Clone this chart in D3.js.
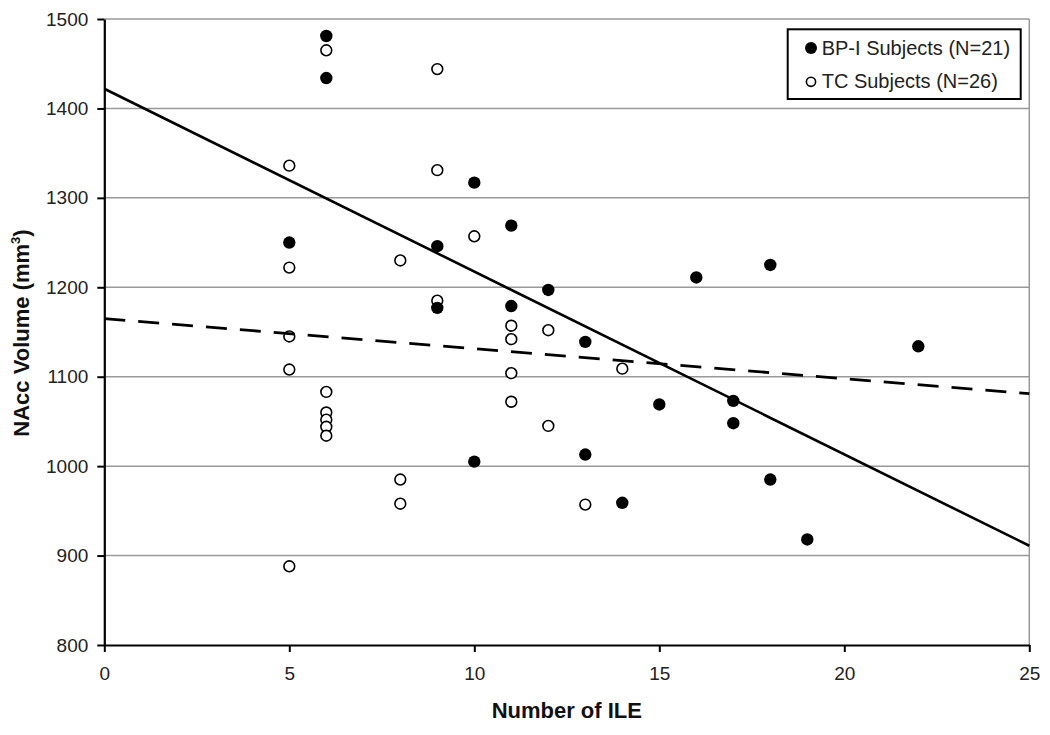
<!DOCTYPE html>
<html>
<head>
<meta charset="utf-8">
<script src="https://cdn.jsdelivr.net/npm/d3@7/dist/d3.min.js"></script>
<style>
  html, body { margin: 0; padding: 0; background: #fff; }
  svg { display: block; font-family: "Liberation Sans", Arial, sans-serif; }
</style>
</head>
<body>
<svg id="chart" width="1050" height="735"></svg>
<script>
// ---- Data ----
const bpX = [6, 6, 5, 9, 9, 10, 10, 11, 11, 12, 13, 13, 14, 15, 16, 17, 17, 18, 18, 19, 22];
const bpY = [1481, 1434, 1250, 1246, 1177, 1317, 1005, 1269, 1179, 1197, 1139, 1013, 959, 1069, 1211, 1073, 1048, 1225, 985, 918, 1134];

const tcX = [5, 5, 5, 5, 5, 6, 6, 6, 6, 6, 6, 8, 8, 8, 9, 9, 9, 10, 11, 11, 11, 11, 12, 12, 13, 14];
const tcY = [1336, 1222, 1145, 1108, 888, 1465, 1083, 1060, 1052, 1044, 1034, 1230, 985, 958, 1444, 1331, 1185, 1257, 1157, 1142, 1104, 1072, 1152, 1045, 957, 1109];

const bpFitX = [0, 25];
const bpFitY = [1422, 911];
const tcFitX = [0, 25];
const tcFitY = [1165, 1081];

const xTicks = [0, 5, 10, 15, 20, 25];
const yTicks = [800, 900, 1000, 1100, 1200, 1300, 1400, 1500];

const legendLabels = ["BP-I Subjects (N=21)", "TC Subjects (N=26)"];
const xTitle = "Number of ILE";
const yTitle = "NAcc Volume (mm";

// ---- Layout ----
const margin = { left: 104.3, top: 19, right: 1050 - 1029.3, bottom: 735 - 645 };
const W = 1050 - margin.left - margin.right;
const H = 735 - margin.top - margin.bottom;

const svg = d3.select("#chart");
const g = svg.append("g").attr("transform", `translate(${margin.left},${margin.top})`);

const x = d3.scaleLinear().domain([0, 25]).range([0, W]);
const y = d3.scaleLinear().domain([800, 1500]).range([H, 0]);

// gridlines
g.append("g").selectAll("line").data(yTicks.filter(d => d > 800)).join("line")
  .attr("x1", 0).attr("x2", W)
  .attr("y1", d => y(d)).attr("y2", d => y(d))
  .attr("stroke", "#999").attr("stroke-width", 1.5);

// right border
g.append("line").attr("x1", W).attr("x2", W).attr("y1", 0).attr("y2", H)
  .attr("stroke", "#999").attr("stroke-width", 1.5);

// axes
const xAxis = g.append("g").attr("transform", `translate(0,${H})`)
  .call(d3.axisBottom(x).tickValues(xTicks).tickFormat(d3.format("d")).tickSize(7).tickSizeOuter(0).tickPadding(15));
const yAxis = g.append("g")
  .call(d3.axisLeft(y).tickValues(yTicks).tickFormat(d3.format("d")).tickSize(7).tickSizeOuter(0).tickPadding(9));

[xAxis, yAxis].forEach(a => {
  a.select(".domain").attr("stroke", "#000").attr("stroke-width", 2.2);
  a.selectAll(".tick line").attr("stroke", "#000").attr("stroke-width", 2);
  a.selectAll(".tick text").attr("font-size", 19).attr("fill", "#222")
    .attr("font-family", "'Liberation Sans', Arial, sans-serif");
});

// points
const bpData = bpX.map((v, i) => ({ x: v, y: bpY[i] }));
const tcData = tcX.map((v, i) => ({ x: v, y: tcY[i] }));

g.append("g").selectAll("circle").data(tcData).join("circle")
  .attr("cx", d => x(d.x)).attr("cy", d => y(d.y)).attr("r", 5.4)
  .attr("fill", "#fff").attr("stroke", "#000").attr("stroke-width", 1.6);

g.append("g").selectAll("circle").data(bpData).join("circle")
  .attr("cx", d => x(d.x)).attr("cy", d => y(d.y)).attr("r", 6.2)
  .attr("fill", "#000");

// fit lines
const line = d3.line().x(d => x(d[0])).y(d => y(d[1]));
g.append("path").datum(bpFitX.map((v, i) => [v, bpFitY[i]]))
  .attr("d", line).attr("fill", "none").attr("stroke", "#000").attr("stroke-width", 2.6);
g.append("path").datum(tcFitX.map((v, i) => [v, tcFitY[i]]))
  .attr("d", line).attr("fill", "none").attr("stroke", "#000").attr("stroke-width", 2.8)
  .attr("stroke-dasharray", "21,13");

// axis titles
svg.append("text")
  .attr("x", margin.left + W / 2).attr("y", 718)
  .attr("text-anchor", "middle").attr("font-weight", "bold").attr("font-size", 22).attr("fill", "#111")
  .text(xTitle);

const yt = svg.append("text")
  .attr("transform", "translate(29,333) rotate(-90)")
  .attr("text-anchor", "middle").attr("font-weight", "bold").attr("font-size", 22).attr("fill", "#111");
yt.append("tspan").text(yTitle);
yt.append("tspan").attr("font-size", 13).attr("dy", -9).text("3");
yt.append("tspan").attr("dy", 9).text(")");

// legend
const lg = svg.append("g");
lg.append("rect").attr("x", 787.7).attr("y", 29.3).attr("width", 233).attr("height", 69.7)
  .attr("fill", "#fff").attr("stroke", "#000").attr("stroke-width", 2);
const rows = [55, 88.3];
lg.append("circle").attr("cx", 811).attr("cy", rows[0] - 7).attr("r", 6).attr("fill", "#000");
lg.append("circle").attr("cx", 811).attr("cy", rows[1] - 6.5).attr("r", 4.6)
  .attr("fill", "#fff").attr("stroke", "#000").attr("stroke-width", 1.6);
legendLabels.forEach((t, i) => {
  lg.append("text").attr("x", 821.7).attr("y", rows[i])
    .attr("font-size", 20).attr("fill", "#222").text(t);
});
</script>
</body>
</html>
